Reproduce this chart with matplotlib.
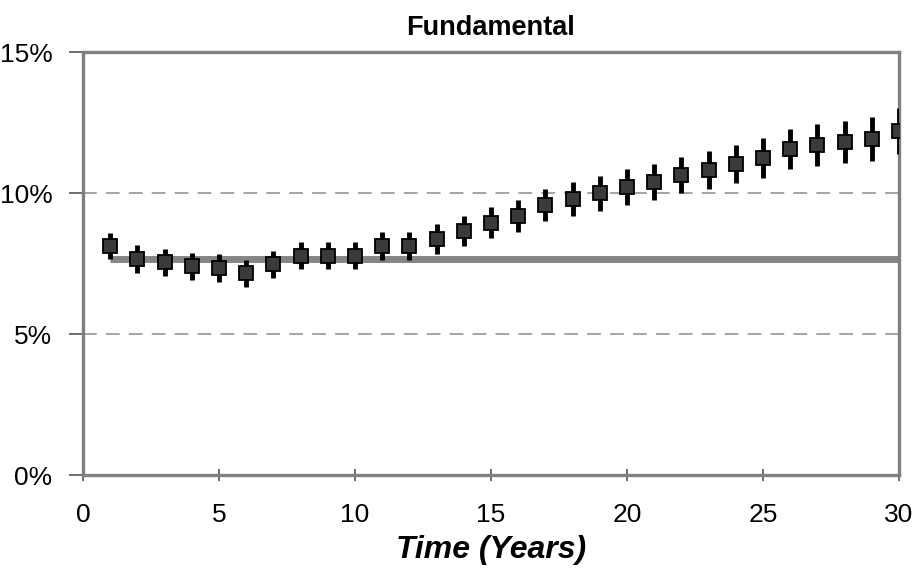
import matplotlib
matplotlib.use("Agg")
import matplotlib.pyplot as plt
from matplotlib.ticker import FuncFormatter

years = list(range(1, 31))
values = [8.12, 7.66, 7.55, 7.41, 7.34, 7.16, 7.48, 7.77, 7.77, 7.77,
          8.12, 8.12, 8.37, 8.65, 8.94, 9.18, 9.57, 9.79, 10.00, 10.21,
          10.39, 10.64, 10.82, 11.03, 11.24, 11.56, 11.70, 11.81, 11.91, 12.20]
errors = [0.45, 0.48, 0.48, 0.48, 0.48, 0.48, 0.48, 0.48, 0.48, 0.48,
          0.50, 0.50, 0.52, 0.53, 0.55, 0.56, 0.58, 0.60, 0.62, 0.63,
          0.64, 0.65, 0.67, 0.68, 0.70, 0.72, 0.73, 0.75, 0.77, 0.80]
baseline_x = [1, 30]
baseline_y = [7.66, 7.66]
title = "Fundamental"
xlabel = "Time (Years)"
xticks = [0, 5, 10, 15, 20, 25, 30]
yticks = [0, 5, 10, 15]

plt.rcParams['font.family'] = ['Liberation Sans', 'DejaVu Sans']

fig = plt.figure(figsize=(9.16, 5.71), dpi=100)
ax = fig.add_axes([0.0906, 0.1681, 0.8908, 0.7408])

for g in [5, 10]:
    ax.axhline(g, color='#8c8c8c', lw=1.1, ls=(0, (9, 6)), zorder=1)

ax.plot(baseline_x, baseline_y, color='#858585', lw=5, solid_capstyle='butt', zorder=2)

ax.errorbar(years, values, yerr=errors, fmt='s', color='black', ecolor='black',
            elinewidth=3.5, capsize=0, markersize=10, markerfacecolor='#3a3a3a',
            markeredgecolor='black', markeredgewidth=1.3, zorder=3)

ax.set_xlim(0, 30)
ax.set_ylim(0, 15)
ax.set_xticks(xticks)
ax.set_yticks(yticks)
ax.yaxis.set_major_formatter(FuncFormatter(lambda v, p: f"{v:.0f}%"))
ax.tick_params(axis='both', labelsize=19, color='#555555', width=1.2)
ax.tick_params(axis='x', direction='inout', length=8, pad=16)
ax.tick_params(axis='y', direction='out', length=10, pad=12)

for s in ax.spines.values():
    s.set_color('#808080')
    s.set_linewidth(2.4)

ax.set_title(title, fontsize=19.5, fontweight='bold', pad=12)
ax.set_xlabel(xlabel, fontsize=23, fontweight='bold', fontstyle='italic', labelpad=6)

fig.savefig("out.png", dpi=100)
